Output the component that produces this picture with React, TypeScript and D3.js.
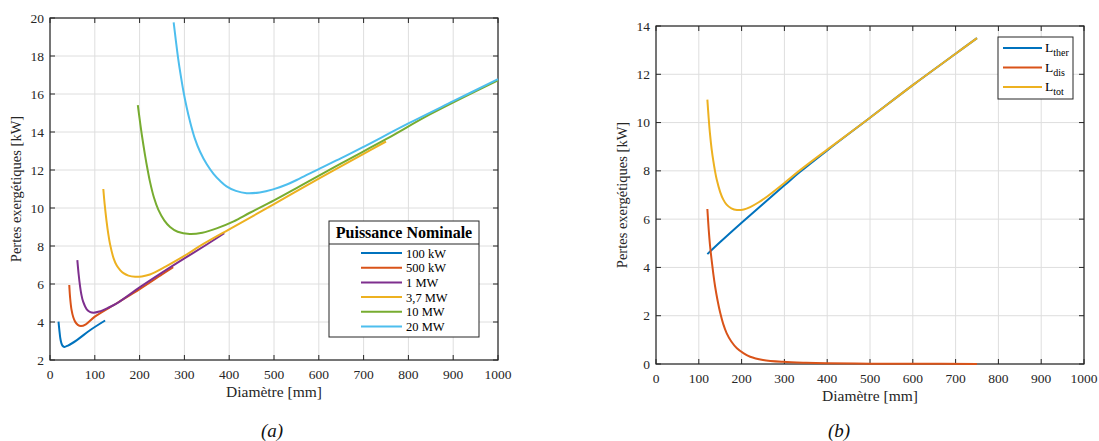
import React from "react";
import * as d3 from "d3";

// ---------- data ----------
const xTicks = [0, 100, 200, 300, 400, 500, 600, 700, 800, 900, 1000];
const yTicksA = [2, 4, 6, 8, 10, 12, 14, 16, 18, 20];
const yTicksB = [0, 2, 4, 6, 8, 10, 12, 14];

const legendTitleA = "Puissance Nominale";
const seriesNamesA = ["100 kW", "500 kW", "1 MW", "3,7 MW", "10 MW", "20 MW"];

const p100kW: [number, number][] = [[19, 4.02], [21, 3.55], [23, 3.15], [25, 2.92], [28, 2.75], [32, 2.69], [40, 2.76], [60, 3.05], [90, 3.58], [123, 4.08]];
const p500kW: [number, number][] = [[43, 5.95], [45, 5.25], [48, 4.65], [52, 4.25], [56, 4.02], [62, 3.85], [69, 3.79], [80, 3.88], [100, 4.28], [150, 5.0], [201, 5.74], [250, 6.5], [275, 6.88]];
const p1MW: [number, number][] = [[61, 7.26], [64, 6.5], [67, 5.9], [70, 5.45], [74, 5.07], [82, 4.67], [90, 4.52], [97, 4.49], [110, 4.55], [130, 4.75], [149, 4.98], [200, 5.82], [250, 6.6], [300, 7.35], [350, 8.08], [389, 8.67]];
const p3_7MW: [number, number][] = [[119, 11.0], [122, 10.2], [126, 9.35], [130, 8.65], [134, 8.1], [142, 7.35], [149, 6.97], [157, 6.72], [164, 6.57], [175, 6.44], [190, 6.38], [205, 6.4], [223, 6.5], [259, 6.93], [298, 7.45], [336, 8.02], [400, 8.88], [500, 10.2], [600, 11.55], [700, 12.85], [750, 13.5]];
const p10MW: [number, number][] = [[196, 15.42], [200, 14.7], [205, 13.85], [212, 12.8], [218, 12.0], [223, 11.4], [232, 10.55], [242, 9.9], [255, 9.35], [268, 9.0], [285, 8.75], [312, 8.63], [340, 8.7], [372, 8.93], [410, 9.3], [446, 9.75], [500, 10.4], [558, 11.15], [650, 12.35], [750, 13.62], [850, 14.95], [1000, 16.72]];
const p20MW: [number, number][] = [[276, 19.77], [281, 18.8], [286, 17.88], [292, 16.95], [298, 16.12], [305, 15.3], [312, 14.6], [323, 13.68], [335, 12.96], [350, 12.3], [365, 11.8], [380, 11.42], [394, 11.14], [415, 10.9], [439, 10.78], [468, 10.82], [498, 10.98], [530, 11.25], [558, 11.56], [600, 12.05], [650, 12.62], [700, 13.22], [800, 14.45], [900, 15.62], [1000, 16.78]];

const seriesNamesB = ["ther", "dis", "tot"];
const lTher: [number, number][] = [[120, 4.55], [150, 5.05], [200, 5.85], [250, 6.63], [300, 7.4], [336, 7.95], [400, 8.85], [500, 10.2], [600, 11.55], [700, 12.85], [750, 13.5]];
const lDis: [number, number][] = [[120, 6.42], [123, 5.6], [126, 4.95], [130, 4.3], [134, 3.72], [138, 3.22], [144, 2.62], [150, 2.12], [157, 1.66], [165, 1.28], [176, 0.93], [189, 0.65], [205, 0.44], [220, 0.3], [250, 0.17], [297, 0.09], [350, 0.05], [400, 0.03], [500, 0.015], [600, 0.008], [750, 0.004]];
const lTot: [number, number][] = [[120, 10.95], [123, 10.2], [126, 9.56], [130, 8.9], [134, 8.4], [138, 7.98], [142, 7.63], [150, 7.12], [157, 6.82], [165, 6.6], [176, 6.45], [189, 6.38], [205, 6.4], [220, 6.5], [240, 6.7], [259, 6.93], [300, 7.5], [336, 8.02], [400, 8.88], [500, 10.2], [600, 11.55], [700, 12.85], [750, 13.5]];

const colors = ["#0072BD", "#D95319", "#7E2F8E", "#EDB120", "#77AC30", "#4DBEEE"];
const colorsB = ["#0072BD", "#D95319", "#EDB120"];

const FONT = "Liberation Serif, Times New Roman, Times, DejaVu Serif, serif";
const AX = "#262626";
const GRID = "#dedede";

type Pt = [number, number];

function Axes({ x, y, yTicks, xLabel, yLabel, yLabelX, caption, captionX }: any) {
  const [x0, x1] = x.range();
  const [y0, y1] = y.range(); // y0 bottom, y1 top
  const tk = 5;
  return (
    <g>
      {xTicks.map((t) => (
        <line key={"gx" + t} x1={x(t)} x2={x(t)} y1={y0} y2={y1} stroke={GRID} strokeWidth={1} />
      ))}
      {yTicks.map((t: number) => (
        <line key={"gy" + t} x1={x0} x2={x1} y1={y(t)} y2={y(t)} stroke={GRID} strokeWidth={1} />
      ))}
      <rect x={x0} y={y1} width={x1 - x0} height={y0 - y1} fill="none" stroke={AX} strokeWidth={1.2} />
      {xTicks.map((t) => (
        <g key={"tx" + t}>
          <line x1={x(t)} x2={x(t)} y1={y0} y2={y0 - tk} stroke={AX} />
          <line x1={x(t)} x2={x(t)} y1={y1} y2={y1 + tk} stroke={AX} />
          <text x={x(t)} y={y0 + 19} textAnchor="middle" fontSize={13.5} fill={AX} style={{ fontFamily: FONT }}>{t}</text>
        </g>
      ))}
      {yTicks.map((t: number) => (
        <g key={"ty" + t}>
          <line x1={x0} x2={x0 + tk} y1={y(t)} y2={y(t)} stroke={AX} />
          <line x1={x1} x2={x1 - tk} y1={y(t)} y2={y(t)} stroke={AX} />
          <text x={x0 - 6} y={y(t) + 4.5} textAnchor="end" fontSize={13.5} fill={AX} style={{ fontFamily: FONT }}>{t}</text>
        </g>
      ))}
      <text x={(x0 + x1) / 2} y={y0 + 37} textAnchor="middle" fontSize={15.5} fill={AX} style={{ fontFamily: FONT }}>{xLabel}</text>
      <text transform={`translate(${yLabelX},${(y0 + y1) / 2}) rotate(-90)`} textAnchor="middle" fontSize={14.5} fill={AX} style={{ fontFamily: FONT }}>{yLabel}</text>
      <text x={captionX} y={437} textAnchor="middle" fontSize={19} fontStyle="italic" fill="#111" style={{ fontFamily: FONT }}>{caption}</text>
    </g>
  );
}

export default function App() {
  const xA = d3.scaleLinear().domain([0, 1000]).range([50, 498]);
  const yA = d3.scaleLinear().domain([2, 20]).range([360, 18]);
  const xB = d3.scaleLinear().domain([0, 1000]).range([656, 1084]);
  const yB = d3.scaleLinear().domain([0, 14]).range([364, 26]);

  const curve = d3.curveCatmullRom.alpha(0.5);
  const lineA = d3.line<Pt>().x((d) => xA(d[0])).y((d) => yA(d[1])).curve(curve);
  const lineB = d3.line<Pt>().x((d) => xB(d[0])).y((d) => yB(d[1])).curve(curve);

  const seriesA = [p100kW, p500kW, p1MW, p3_7MW, p10MW, p20MW];
  const seriesB = [lTher, lDis, lTot];

  const lgA = { x: 329, y: 221, w: 150, h: 116, sep: 244, row0: 253, dy: 14.7 };
  const lgB = { x: 998, y: 37, w: 75, h: 62, row0: 48, dy: 19.5 };

  return (
    <svg width={1099} height={441} style={{ position: "absolute", left: 0, top: 0, background: "#fff", fontFamily: FONT }}>
      <rect width={1099} height={441} fill="#fff" />
      <Axes x={xA} y={yA} yTicks={yTicksA} xLabel="Diamètre [mm]" yLabel="Pertes exergétiques [kW]" yLabelX={21} caption="(a)" captionX={272} />
      <g>
        {seriesA.map((s, i) => (
          <path key={i} d={lineA(s) || ""} fill="none" stroke={colors[i]} strokeWidth={2} />
        ))}
      </g>
      <g style={{ fontFamily: FONT }}>
        <rect x={lgA.x} y={lgA.y} width={lgA.w} height={lgA.h} fill="#fff" stroke={AX} strokeWidth={1} />
        <line x1={lgA.x} x2={lgA.x + lgA.w} y1={lgA.sep} y2={lgA.sep} stroke={AX} strokeWidth={1} />
        <text x={lgA.x + lgA.w / 2} y={lgA.y + 17} textAnchor="middle" fontSize={16} fontWeight="bold" fill="#000">{legendTitleA}</text>
        {seriesNamesA.map((n, i) => (
          <g key={n}>
            <line x1={361} x2={402} y1={lgA.row0 + i * lgA.dy} y2={lgA.row0 + i * lgA.dy} stroke={colors[i]} strokeWidth={2} />
            <text x={406} y={lgA.row0 + i * lgA.dy + 4.5} fontSize={12.5} fill="#000">{n}</text>
          </g>
        ))}
      </g>

      <Axes x={xB} y={yB} yTicks={yTicksB} xLabel="Diamètre [mm]" yLabel="Pertes exergétiques [kW]" yLabelX={627} caption="(b)" captionX={839} />
      <g>
        {seriesB.map((s, i) => (
          <path key={i} d={lineB(s) || ""} fill="none" stroke={colorsB[i]} strokeWidth={2} />
        ))}
      </g>
      <g style={{ fontFamily: FONT }}>
        <rect x={lgB.x} y={lgB.y} width={lgB.w} height={lgB.h} fill="#fff" stroke={AX} strokeWidth={1} />
        {seriesNamesB.map((n, i) => (
          <g key={n}>
            <line x1={1003} x2={1042} y1={lgB.row0 + i * lgB.dy} y2={lgB.row0 + i * lgB.dy} stroke={colorsB[i]} strokeWidth={2} />
            <text x={1045} y={lgB.row0 + i * lgB.dy + 4} fontSize={13.5} fill="#000">
              L<tspan fontSize={10} dy={4}>{n}</tspan>
            </text>
          </g>
        ))}
      </g>
    </svg>
  );
}
